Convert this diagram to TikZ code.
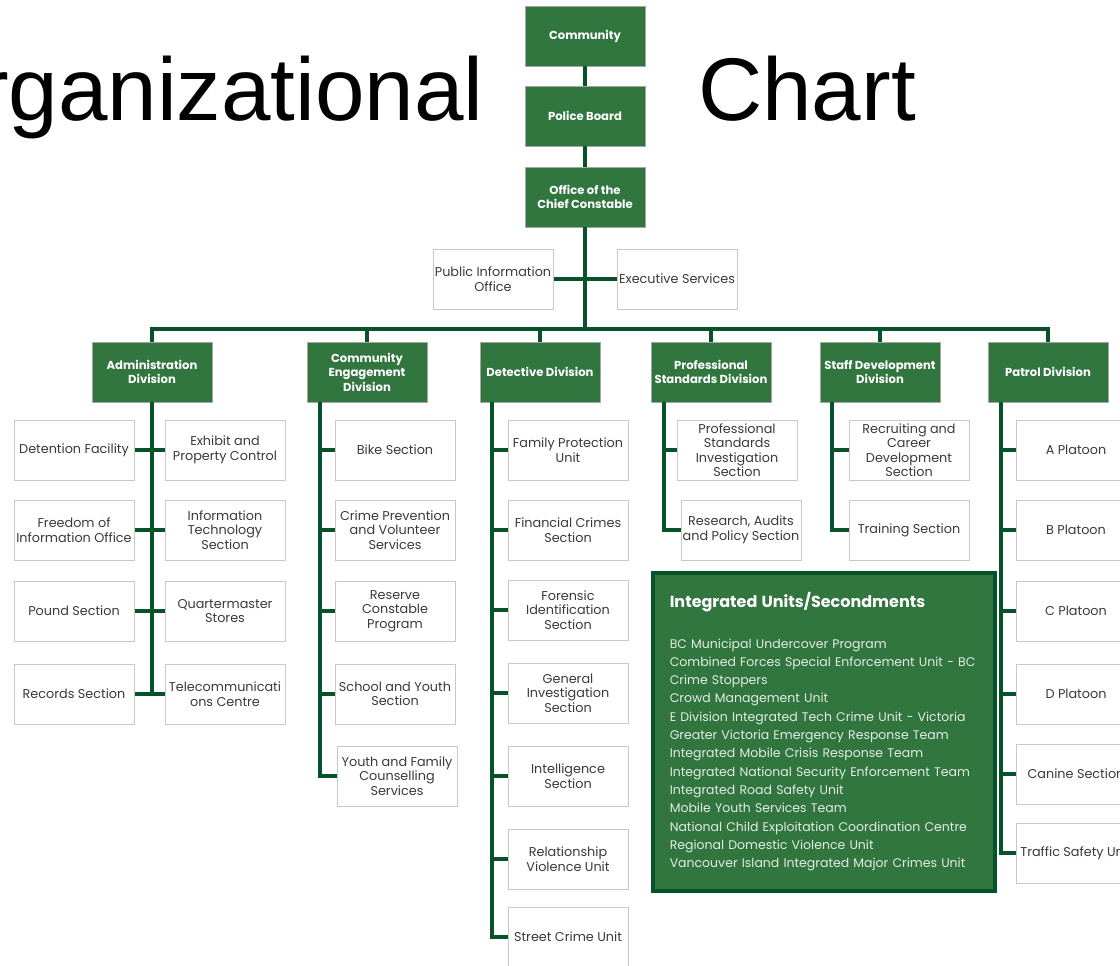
\documentclass[tikz,border=0pt]{standalone}
\usepackage{fontspec}
\setmainfont{Liberation Sans}
\newfontfamily\boxfont{Poppins}
\usepackage{tikz}
\usetikzlibrary{positioning}
\definecolor{boxgreen}{RGB}{49,117,63}
\definecolor{linegreen}{RGB}{8,82,42}
\definecolor{boxtext}{RGB}{58,58,58}
\definecolor{boxedge}{RGB}{200,200,200}
\definecolor{listtext}{RGB}{228,236,228}
\tikzstyle{division} = [draw=gray!70, line width=0.6, fill=boxgreen, text=white, font=\boxfont\bfseries\fontsize{11.6}{14.5}\selectfont, minimum width=120, minimum height=60, align=center, inner sep=1pt]
\tikzstyle{unit} = [draw=boxedge, line width=1, fill=white, text=boxtext, font=\boxfont\fontsize{12.8}{14.5}\selectfont, minimum width=120, minimum height=60, align=center, inner sep=1pt]
\tikzstyle{panel} = [draw=linegreen, line width=3.5, fill=boxgreen, text=listtext, font=\boxfont\fontsize{12.5}{18.3}\selectfont, minimum width=342, minimum height=318, text width=308, inner xsep=17, align=left]
\tikzstyle{line} = [draw=linegreen, line width=4]

\begin{document}
\begin{tikzpicture}[x=1pt, y=-1pt]
    \useasboundingbox (0,0) rectangle (1120,966);

    % Title, split around the top of the chart
    \node [anchor=base east, inner sep=0pt, font=\fontsize{89}{89}\selectfont] (title-left) at (484,121) {Organizational};
    \node [anchor=base west, inner sep=0pt, font=\fontsize{89}{89}\selectfont] (title-right) at (698,121) {Chart};

    % Place nodes
    \node [division] (community) at (585,36) {Community};
    \node [division] (police-board) at (585,116) {Police Board};
    \node [division] (chief-constable) at (585,197) {Office of the\\Chief Constable};
    \node [unit] (public-info) at (493,279) {Public Information\\Office};
    \node [unit] (exec-services) at (677,279) {Executive Services};

    \node [division] (admin-div) at (152,372) {Administration\\Division};
    \node [division] (community-div) at (367,372) {Community\\Engagement\\Division};
    \node [division] (detective-div) at (540,372) {Detective Division};
    \node [division] (standards-div) at (711,372) {Professional\\Standards Division};
    \node [division] (staff-div) at (880,372) {Staff Development\\Division};
    \node [division] (patrol-div) at (1048,372) {Patrol Division};

    \node [unit] (detention) at (74,450) {Detention Facility};
    \node [unit] (freedom-info) at (74,530) {Freedom of\\Information Office};
    \node [unit] (pound) at (74,611) {Pound Section};
    \node [unit] (records) at (74,694) {Records Section};
    \node [unit] (exhibit) at (225,450) {Exhibit and\\Property Control};
    \node [unit] (info-tech) at (225,530) {Information\\Technology\\Section};
    \node [unit] (quartermaster) at (225,611) {Quartermaster\\Stores};
    \node [unit] (telecom) at (225,694) {Telecommunicati\\ons Centre};

    \node [unit] (bike) at (395,450) {Bike Section};
    \node [unit] (crime-prevention) at (395,530) {Crime Prevention\\and Volunteer\\Services};
    \node [unit] (reserve) at (395,611) {Reserve\\Constable\\Program};
    \node [unit] (school-youth) at (395,694) {School and Youth\\Section};
    \node [unit] (youth-family) at (397,776) {Youth and Family\\Counselling\\Services};

    \node [unit] (family-protection) at (568,450) {Family Protection\\Unit};
    \node [unit] (financial) at (568,530) {Financial Crimes\\Section};
    \node [unit] (forensic) at (568,610) {Forensic\\Identification\\Section};
    \node [unit] (general-inv) at (568,693) {General\\Investigation\\Section};
    \node [unit] (intelligence) at (568,776) {Intelligence\\Section};
    \node [unit] (relationship) at (568,859) {Relationship\\Violence Unit};
    \node [unit] (street-crime) at (568,937) {Street Crime Unit};

    \node [unit] (standards-inv) at (737,450) {Professional\\Standards\\Investigation\\Section};
    \node [unit] (research) at (741,530) {Research, Audits\\and Policy Section};

    \node [unit] (recruiting) at (909,450) {Recruiting and\\Career\\Development\\Section};
    \node [unit] (training) at (909,530) {Training Section};

    \node [unit] (a-platoon) at (1076,450) {A Platoon};
    \node [unit] (b-platoon) at (1076,530) {B Platoon};
    \node [unit] (c-platoon) at (1076,611) {C Platoon};
    \node [unit] (d-platoon) at (1076,694) {D Platoon};
    \node [unit] (canine) at (1076,774) {Canine Section};
    \node [unit] (traffic) at (1076,853) {Traffic Safety Unit};

    \node [panel, anchor=north west] (integrated) at (651,571) {%
      {\color{white}\bfseries\fontsize{16}{18}\selectfont Integrated Units/Secondments}\\[22pt]
      BC Municipal Undercover Program\\
      Combined Forces Special Enforcement Unit - BC\\
      Crime Stoppers\\
      Crowd Management Unit\\
      E Division Integrated Tech Crime Unit - Victoria\\
      Greater Victoria Emergency Response Team\\
      Integrated Mobile Crisis Response Team\\
      Integrated National Security Enforcement Team\\
      Integrated Road Safety Unit\\
      Mobile Youth Services Team\\
      National Child Exploitation Coordination Centre\\
      Regional Domestic Violence Unit\\
      Vancouver Island Integrated Major Crimes Unit};

    % Helper coordinates for the bar and the spines
    \coordinate (bar) at (585,329);
    \coordinate (community-spine) at ([xshift=13]community-div.south west);
    \coordinate (detective-spine) at ([xshift=12]detective-div.south west);
    \coordinate (standards-spine) at ([xshift=13]standards-div.south west);
    \coordinate (staff-spine) at ([xshift=12]staff-div.south west);
    \coordinate (patrol-spine) at ([xshift=13]patrol-div.south west);

    % Draw edges
    \path [line] (community) -- (police-board);
    \path [line] (police-board) -- (chief-constable);
    \path [line] (chief-constable) -- (bar);
    \path [line] (public-info) -- (exec-services);
    \path [line] (admin-div) |- (bar) -| (patrol-div);
    \path [line] (bar -| community-div) -- (community-div);
    \path [line] (bar -| detective-div) -- (detective-div);
    \path [line] (bar -| standards-div) -- (standards-div);
    \path [line] (bar -| staff-div) -- (staff-div);

    % Administration
    \path [line] (admin-div) -- (admin-div |- records);
    \path [line] (detention) -- (exhibit);
    \path [line] (freedom-info) -- (info-tech);
    \path [line] (pound) -- (quartermaster);
    \path [line] (records) -- (telecom);

    % Community engagement
    \path [line] (community-spine) |- (youth-family);
    \path [line] (community-spine |- bike) -- (bike);
    \path [line] (community-spine |- crime-prevention) -- (crime-prevention);
    \path [line] (community-spine |- reserve) -- (reserve);
    \path [line] (community-spine |- school-youth) -- (school-youth);

    % Detective
    \path [line] (detective-spine) |- (street-crime);
    \path [line] (detective-spine |- family-protection) -- (family-protection);
    \path [line] (detective-spine |- financial) -- (financial);
    \path [line] (detective-spine |- forensic) -- (forensic);
    \path [line] (detective-spine |- general-inv) -- (general-inv);
    \path [line] (detective-spine |- intelligence) -- (intelligence);
    \path [line] (detective-spine |- relationship) -- (relationship);

    % Professional standards and staff development
    \path [line] (standards-spine) |- (research);
    \path [line] (standards-spine |- standards-inv) -- (standards-inv);
    \path [line] (staff-spine) |- (training);
    \path [line] (staff-spine |- recruiting) -- (recruiting);

    % Patrol
    \path [line] (patrol-spine) |- (traffic);
    \path [line] (patrol-spine |- a-platoon) -- (a-platoon);
    \path [line] (patrol-spine |- b-platoon) -- (b-platoon);
    \path [line] (patrol-spine |- c-platoon) -- (c-platoon);
    \path [line] (patrol-spine |- d-platoon) -- (d-platoon);
    \path [line] (patrol-spine |- canine) -- (canine);
\end{tikzpicture}
\end{document}
